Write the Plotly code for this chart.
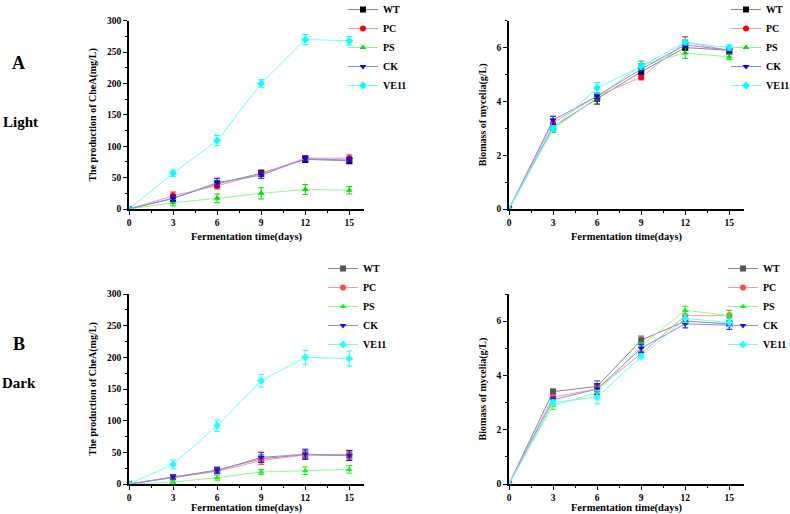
import plotly.graph_objects as go

days = [0, 3, 6, 9, 12, 15]
series = ["WT", "PC", "PS", "CK", "VE11"]

# Light - CheA production (mg/L)
light_chea = {
    "WT":   [0, 17, 40, 57, 79, 77],
    "PC":   [0, 21, 37, 56, 81, 81],
    "PS":   [0, 10, 17, 25, 31, 30],
    "CK":   [0, 17, 42, 54, 80, 78],
    "VE11": [0, 57, 109, 200, 270, 268],
}
light_chea_err = {
    "WT":   [0, 5, 5, 5, 5, 5],
    "PC":   [0, 6, 5, 4, 4, 5],
    "PS":   [0, 5, 7, 9, 8, 6],
    "CK":   [0, 5, 7, 5, 4, 4],
    "VE11": [0, 5, 8, 6, 8, 7],
}
# Light - biomass (g/L)
light_bio = {
    "WT":   [0, 3.05, 4.1, 5.1, 6.0, 5.9],
    "PC":   [0, 3.2, 4.2, 4.9, 6.2, 5.9],
    "PS":   [0, 2.95, 4.15, 5.35, 5.8, 5.65],
    "CK":   [0, 3.3, 4.2, 5.2, 6.1, 5.9],
    "VE11": [0, 3.0, 4.5, 5.3, 6.2, 6.0],
}
light_bio_err = {
    "WT":   [0, 0.1, 0.2, 0.1, 0.1, 0.1],
    "PC":   [0, 0.15, 0.1, 0.1, 0.2, 0.15],
    "PS":   [0, 0.1, 0.1, 0.15, 0.2, 0.1],
    "CK":   [0, 0.15, 0.1, 0.2, 0.1, 0.1],
    "VE11": [0, 0.1, 0.2, 0.1, 0.1, 0.1],
}
# Dark - CheA production (mg/L)
dark_chea = {
    "WT":   [0, 11, 22, 40, 46, 45],
    "PC":   [0, 10, 20, 37, 46, 47],
    "PS":   [0, 3, 10, 19, 21, 23],
    "CK":   [0, 11, 21, 42, 47, 45],
    "VE11": [0, 31, 92, 163, 200, 198],
}
dark_chea_err = {
    "WT":   [0, 3, 5, 6, 6, 7],
    "PC":   [0, 3, 4, 6, 7, 6],
    "PS":   [0, 2, 4, 4, 6, 6],
    "CK":   [0, 3, 4, 8, 8, 8],
    "VE11": [0, 7, 9, 10, 11, 12],
}
# Dark - biomass (g/L)
dark_bio = {
    "WT":   [0, 3.4, 3.6, 5.3, 6.0, 5.9],
    "PC":   [0, 3.2, 3.5, 4.8, 6.2, 6.2],
    "PS":   [0, 2.9, 3.35, 5.1, 6.4, 6.2],
    "CK":   [0, 3.1, 3.5, 5.0, 5.9, 5.85],
    "VE11": [0, 3.0, 3.2, 4.7, 6.1, 5.95],
}
dark_bio_err = {
    "WT":   [0, 0.1, 0.2, 0.15, 0.1, 0.1],
    "PC":   [0, 0.1, 0.1, 0.1, 0.15, 0.2],
    "PS":   [0, 0.15, 0.1, 0.1, 0.15, 0.1],
    "CK":   [0, 0.1, 0.2, 0.15, 0.15, 0.15],
    "VE11": [0, 0.1, 0.25, 0.1, 0.15, 0.15],
}

marker_col = {"WT": "#000000", "PC": "#ff0000", "PS": "#00dd00", "CK": "#0000ff", "VE11": "#00ffff"}
marker_col_dark = {"WT": "#555555", "PC": "#ff4444", "PS": "#22ee22", "CK": "#1111ee", "VE11": "#22ffff"}
line_col = {"WT": "#888888", "PC": "#ff9999", "PS": "#88ff88", "CK": "#8888ff", "VE11": "#66ffff"}
symbols = {"WT": "square", "PC": "circle", "PS": "triangle-up", "CK": "triangle-down", "VE11": "diamond"}

FONT = "Liberation Serif"

fig = go.Figure()

panels = [
    (light_chea, light_chea_err, "x", "y", "legend", marker_col),
    (light_bio, light_bio_err, "x2", "y2", "legend2", marker_col),
    (dark_chea, dark_chea_err, "x3", "y3", "legend3", marker_col_dark),
    (dark_bio, dark_bio_err, "x4", "y4", "legend4", marker_col_dark),
]

for data, err, xa, ya, lg, mcol in panels:
    for s in series:
        fig.add_trace(go.Scatter(
            x=days, y=data[s], name=s, mode="lines+markers",
            xaxis=xa, yaxis=ya, legend=lg,
            line=dict(color=line_col[s], width=1),
            marker=dict(symbol=symbols[s], size=6, color=mcol[s], line=dict(width=0)),
            error_y=dict(type="data", array=err[s], visible=True, color=mcol[s], thickness=1, width=3),
        ))

xl = 129 / 790
xr = 364 / 790
x2l = 509 / 790
x2r = 744 / 790
ytop_b, ytop_t = 1 - 209 / 514, 1 - 20.7 / 514
ybot_b, ybot_t = 1 - 484 / 514, 1 - 294 / 514


def xaxis(domain, anchor):
    return dict(domain=domain, anchor=anchor, range=[0, 16], tickvals=[0, 3, 6, 9, 12, 15],
                automargin=False,
                showline=True, linecolor="black", linewidth=1.5, ticks="outside", ticklen=4,
                tickcolor="black", tickwidth=1, showgrid=False, zeroline=False,
                minor=dict(tickvals=[1.5, 4.5, 7.5, 10.5, 13.5], ticks="outside", ticklen=2,
                           tickcolor="black", tickwidth=1),
                tickfont=dict(family=FONT, size=9.5, color="black", weight="bold"),
                title=dict(text="Fermentation time(days)",
                           font=dict(family=FONT, size=10.5, color="black", weight="bold"),
                           standoff=5))


def yaxis(domain, anchor, rng, dtick, title, standoff):
    return dict(domain=domain, anchor=anchor, range=rng, dtick=dtick,
                automargin=False,
                showline=True, linecolor="black", linewidth=1.5, ticks="outside", ticklen=4,
                tickcolor="black", tickwidth=1, showgrid=False, zeroline=False,
                minor=dict(dtick=dtick / 2, ticks="outside", ticklen=2, tickcolor="black", tickwidth=1),
                tickfont=dict(family=FONT, size=9.5, color="black", weight="bold"),
                title=dict(text=title, font=dict(family=FONT, size=10, color="black", weight="bold"),
                           standoff=standoff))


def legend(x, y):
    return dict(x=x, y=y, xanchor="left", yanchor="top",
                bgcolor="rgba(0,0,0,0)",
                font=dict(family=FONT, size=10, color="black", weight="bold"), itemwidth=30,
                tracegroupgap=0, borderwidth=0)


fig.update_layout(
    width=790, height=514,
    margin=dict(l=0, r=0, t=0, b=0, autoexpand=False),
    paper_bgcolor="white", plot_bgcolor="white",
    showlegend=True,
    xaxis=xaxis([xl, xr], "y"),
    yaxis=yaxis([ytop_b, ytop_t], "x", [0, 300], 50, "The production of CheA(mg/L)", 9),
    xaxis2=xaxis([x2l, x2r], "y2"),
    yaxis2=yaxis([ytop_b, ytop_t], "x2", [0, 7], 2, "Biomass of mycelia(g/L)", 8),
    xaxis3=xaxis([xl, xr], "y3"),
    yaxis3=yaxis([ybot_b, ybot_t], "x3", [0, 300], 50, "The production of CheA(mg/L)", 9),
    xaxis4=xaxis([x2l, x2r], "y4"),
    yaxis4=yaxis([ybot_b, ybot_t], "x4", [0, 7], 2, "Biomass of mycelia(g/L)", 8),
    legend=legend(343 / 790, 1 + 5 / 514),
    legend2=legend(726 / 790, 1 + 5 / 514),
    legend3=legend(323 / 790, 1 - 254 / 514),
    legend4=legend(723 / 790, 1 - 254 / 514),
    annotations=[
        dict(text="<b>A</b>", x=18.5 / 790, y=1 - 63 / 514, xref="paper", yref="paper", showarrow=False,
             xanchor="center", yanchor="middle", font=dict(family=FONT, size=18, color="black")),
        dict(text="<b>Light</b>", x=20 / 790, y=1 - 122 / 514, xref="paper", yref="paper", showarrow=False,
             xanchor="center", yanchor="middle", font=dict(family=FONT, size=15, color="black")),
        dict(text="<b>B</b>", x=18.5 / 790, y=1 - 344 / 514, xref="paper", yref="paper", showarrow=False,
             xanchor="center", yanchor="middle", font=dict(family=FONT, size=18, color="black")),
        dict(text="<b>Dark</b>", x=19 / 790, y=1 - 383 / 514, xref="paper", yref="paper", showarrow=False,
             xanchor="center", yanchor="middle", font=dict(family=FONT, size=15, color="black")),
    ],
)

fig.write_html("out.html", config={"displayModeBar": False},
               post_script="document.body.style.margin='0px';document.body.style.overflow='hidden';")
